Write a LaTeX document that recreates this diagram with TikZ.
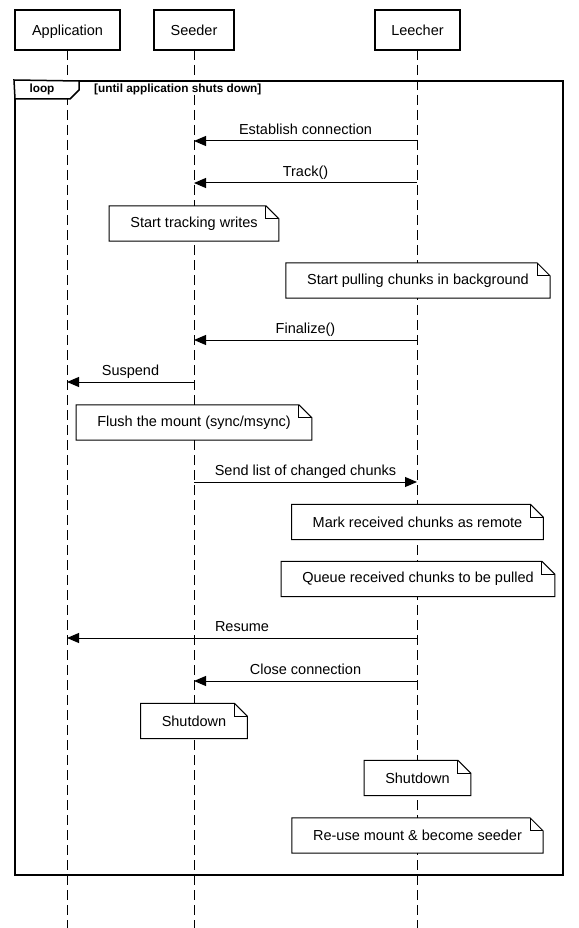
\documentclass[tikz,border=0pt]{standalone}
\usepackage{fontspec}
\setmainfont{Liberation Sans}
\usetikzlibrary{arrows.meta}

\tikzset{
  actor/.style={draw, line width=2pt, minimum height=40pt, inner sep=0pt, text height=13pt, text depth=1pt, font=\fontsize{14.5}{17}\selectfont},
  lifeline/.style={line width=1pt, dash pattern=on 10pt off 5pt},
  msg/.style={line width=1pt, -{Triangle[length=12pt, width=10pt]}},
  msglabel/.style={above=2pt, font=\fontsize{14.5}{17}\selectfont, inner sep=1pt, text height=11pt, text depth=3pt},
  notebox/.style={fill=white, inner xsep=21pt, minimum height=35pt, font=\fontsize{14.5}{17}\selectfont},
  noteline/.style={line width=1pt},
  looplabel/.style={font=\bfseries\fontsize{11.8}{14}\selectfont}
}
\newcommand{\dogear}[1]{%
  \draw[noteline] (#1.north west) -- ([xshift=-13pt]#1.north east) -- ([yshift=-13pt]#1.north east)
    -- (#1.south east) -- (#1.south west) -- cycle;
  \draw[noteline] ([xshift=-13pt]#1.north east) |- ([yshift=-13pt]#1.north east);
}

\begin{document}
\begin{tikzpicture}[x=1pt, y=-1pt]
        \useasboundingbox (0,0) rectangle (578,928);

        % Participants
        \node[actor, minimum width=105pt] (app) at (67.5,30) {Application};
        \node[actor, minimum width=80pt] (seed) at (194,30) {Seeder};
        \node[actor, minimum width=85pt] (leech) at (417.5,30) {Leecher};

        % Lifelines
        \coordinate (appEnd) at (67,928);
        \coordinate (seedEnd) at (194,928);
        \coordinate (leechEnd) at (417,928);
        \draw[lifeline] (67,50) -- (appEnd);
        \draw[lifeline] (194,50) -- (seedEnd);
        \draw[lifeline] (417,50) -- (leechEnd);

        % Loop frame
        \node[looplabel, anchor=west, fill=white, inner xsep=1pt, inner ysep=1pt] (loopcond) at (93,89) {[until application shuts down]};
        \node[draw, line width=2pt, minimum width=548pt, minimum height=794pt, inner sep=0pt] (frame) at (289,478) {};
        \filldraw[fill=white, line width=1.5pt] (frame.north west) -- (79,81) -- (79,90) -- (70,99) -- (15,99) -- cycle;
        \node[looplabel] (looptag) at (42,89) {loop};

        % Lifeline points for messages
        \coordinate (l1) at (417,141);  \coordinate (s1) at (194,141);
        \coordinate (l2) at (417,183);  \coordinate (s2) at (194,183);
        \coordinate (l3) at (417,340);  \coordinate (s3) at (194,340);
        \coordinate (s4) at (194,382);  \coordinate (a4) at (67,382);
        \coordinate (s5) at (194,482);  \coordinate (l5) at (417,482);
        \coordinate (l6) at (417,638);  \coordinate (a6) at (67,638);
        \coordinate (l7) at (417,681);  \coordinate (s7) at (194,681);

        % Messages
        \draw[msg] (l1) -- node[msglabel] {Establish connection} (s1);
        \draw[msg] (l2) -- node[msglabel] {Track()} (s2);
        \draw[msg] (l3) -- node[msglabel] {Finalize()} (s3);
        \draw[msg] (s4) -- node[msglabel] {Suspend} (a4);
        \draw[msg] (s5) -- node[msglabel] {Send list of changed chunks} (l5);
        \draw[msg] (l6) -- node[msglabel] {Resume} (a6);
        \draw[msg] (l7) -- node[msglabel] {Close connection} (s7);

        % Notes
        \node[notebox] (track) at (194,223.5) {Start tracking writes};
        \node[notebox] (pull) at (418,280.5) {Start pulling chunks in background};
        \node[notebox] (flush) at (194,422.5) {Flush the mount (sync/msync)};
        \node[notebox] (mark) at (417.5,522) {Mark received chunks as remote};
        \node[notebox] (queue) at (418,579) {Queue received chunks to be pulled};
        \node[notebox] (seedstop) at (194,721) {Shutdown};
        \node[notebox] (leechstop) at (417.5,778) {Shutdown};
        \node[notebox] (reuse) at (417.5,835.5) {Re-use mount \& become seeder};
        \foreach \n in {track, pull, flush, mark, queue, seedstop, leechstop, reuse} {
                \dogear{\n}
        }
\end{tikzpicture}
\end{document}
